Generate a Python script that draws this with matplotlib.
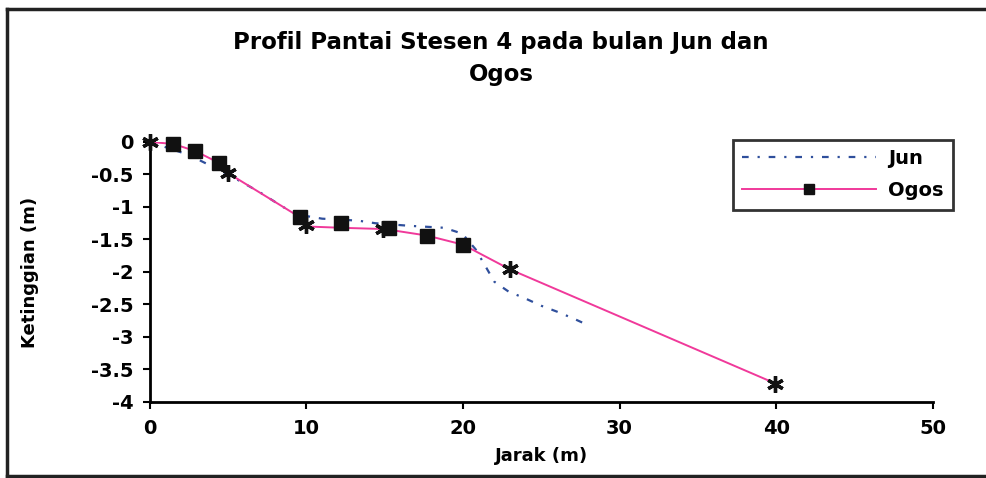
import matplotlib
matplotlib.use("Agg")
import matplotlib.pyplot as plt
from matplotlib.lines import Line2D

PINK, BLUE = "#f0399a", "#2f4f9c"

# Jun profile (blue dash-dot, no markers)
jun_x = [0, 2.5, 5, 7, 8.5, 9.5, 11, 13.3, 14.4, 16.6, 18.8, 19.95, 20.8, 21.5, 22.0, 22.9, 24, 25, 26, 27, 28]
jun_y = [0, -0.2, -0.5, -0.77, -1.0, -1.12, -1.18, -1.21, -1.25, -1.29, -1.32, -1.41, -1.65, -1.94, -2.15,
         -2.30, -2.41, -2.52, -2.61, -2.71, -2.82]

# Ogos profile (pink line); squares at the measured points
ogos_x = [0, 1.5, 2.9, 4.4, 5.0, 9.6, 10.0, 12.2, 15.0, 17.7, 20.0, 23.0, 40.0]
ogos_y = [0, -0.03, -0.14, -0.32, -0.48, -1.16, -1.30, -1.32, -1.34, -1.44, -1.58, -1.96, -3.72]
sq_x = [1.5, 2.9, 4.4, 9.6, 12.2, 15.3, 17.7, 20.0]
sq_y = [-0.03, -0.14, -0.32, -1.16, -1.25, -1.33, -1.44, -1.58]

# asterisk survey points
st_x = [0, 5.0, 10.0, 14.9, 23.0, 39.9]
st_y = [0, -0.48, -1.27, -1.34, -1.96, -3.72]

fig = plt.figure(figsize=(9.86, 4.78), dpi=100)
ax = fig.add_axes([0.152, 0.159, 0.794, 0.544])

ax.plot(jun_x, jun_y, color=BLUE, lw=1.6, ls=(0, (3, 4, 1, 4)), label="Jun")
ax.plot(ogos_x, ogos_y, color=PINK, lw=1.4, zorder=3)
ax.plot(sq_x, sq_y, ls="none", marker="s", ms=10, color="#111111", zorder=4, clip_on=False)
ax.plot(st_x, st_y, ls="none", marker=(6, 2, 0), ms=12, mew=2.4, color="#111111", zorder=5, clip_on=False)

ax.set_xlim(0, 50)
ax.set_ylim(-4, 0)
ax.set_xticks([0, 10, 20, 30, 40, 50])
ax.set_yticks([0, -0.5, -1, -1.5, -2, -2.5, -3, -3.5, -4])
ax.set_yticklabels(["0", "-0.5", "-1", "-1.5", "-2", "-2.5", "-3", "-3.5", "-4"])
for s in ("top", "right"):
    ax.spines[s].set_visible(False)
for s in ("left", "bottom"):
    ax.spines[s].set_linewidth(2)
ax.tick_params(direction="out", length=5, width=1.5, labelsize=14, pad=7)
for t in ax.get_xticklabels() + ax.get_yticklabels():
    t.set_fontweight("bold")
ax.set_xlabel("Jarak (m)", fontsize=13, fontweight="bold", labelpad=7)
ax.set_ylabel("Ketinggian (m)", fontsize=13, fontweight="bold", labelpad=37)

fig.text(0.508, 0.912, "Profil Pantai Stesen 4 pada bulan Jun dan", ha="center", va="center",
         fontsize=16.5, fontweight="bold")
fig.text(0.508, 0.845, "Ogos", ha="center", va="center", fontsize=16.5, fontweight="bold")

handles = [Line2D([], [], color=BLUE, lw=1.6, ls=(0, (3, 4, 1, 4))),
           Line2D([], [], color=PINK, lw=1.4, marker="s", ms=7, mfc="#111111", mec="#111111")]
leg = fig.legend(handles, ["Jun", "Ogos"], loc="upper left", bbox_to_anchor=(0.743, 0.708),
                 borderaxespad=0, frameon=True, fancybox=False, edgecolor="black",
                 prop={"weight": "bold", "size": 14}, handlelength=6.9, handletextpad=0.6,
                 borderpad=0.5, labelspacing=0.65)
leg.get_frame().set_linewidth(2)

# outer chart border (top, left, bottom)
fig.add_artist(Line2D([0.007, 1.0], [0.981, 0.981], color="#222222", lw=2.5))
fig.add_artist(Line2D([0.007, 0.007], [0.004, 0.981], color="#222222", lw=2.5))
fig.add_artist(Line2D([0.007, 1.0], [0.004, 0.004], color="#222222", lw=2.5))

fig.savefig("out.png", dpi=100)
